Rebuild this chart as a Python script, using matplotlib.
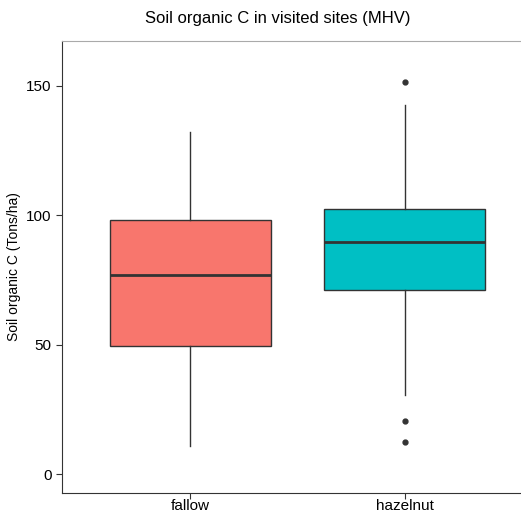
import matplotlib
matplotlib.use("Agg")
import matplotlib.pyplot as plt

# values (Tons/ha)
groups = ["fallow", "hazelnut"]
q1 = [49.6, 71.2]
med = [76.9, 89.6]
q3 = [98.1, 102.3]
whislo = [10.8, 30.4]
whishi = [132.3, 142.7]
outliers = [[], [151.5, 20.5, 12.4]]
colors = ["#F8766D", "#00BFC4"]

plt.rcParams["font.family"] = ["Liberation Sans", "DejaVu Sans"]

W, H = 521, 515
fig = plt.figure(figsize=(W / 100, H / 100), dpi=100)
# panel runs a bit past the right edge, like the clipped original
ax = fig.add_axes([62 / W, 1 - 493 / H, 471 / W, (493 - 41) / H])

stats = []
for i, g in enumerate(groups):
    stats.append(dict(label=g, q1=q1[i], med=med[i], q3=q3[i],
                      whislo=whislo[i], whishi=whishi[i], fliers=outliers[i]))

bp = ax.bxp(stats, positions=[1, 2], widths=0.75, patch_artist=True,
            showcaps=False,
            boxprops=dict(edgecolor="#333333", linewidth=1.0),
            medianprops=dict(color="#333333", linewidth=2.0),
            whiskerprops=dict(color="#333333", linewidth=1.0),
            flierprops=dict(marker="o", markerfacecolor="#333333",
                            markeredgecolor="#333333", markersize=3.5))
for patch, c in zip(bp["boxes"], colors):
    patch.set_facecolor(c)

ax.set_xlim(0.4, 2.6)
ax.set_ylim(-7.3, 167.3)
ax.set_yticks([0, 50, 100, 150])

ax.spines["right"].set_visible(False)
ax.spines["top"].set_color("#aaaaaa")
ax.spines["left"].set_color("#333333")
ax.spines["bottom"].set_color("#333333")
ax.tick_params(colors="#333333", length=4, labelsize=11, labelcolor="black")
ax.tick_params(axis="x", pad=0.5)

ax.set_ylabel("Soil organic C (Tons/ha)", fontsize=10, labelpad=4)
fig.text(278 / W, 1 - 18 / H, "Soil organic C in visited sites (MHV)",
         ha="center", va="center", fontsize=12)

fig.savefig("out.png", dpi=100)
